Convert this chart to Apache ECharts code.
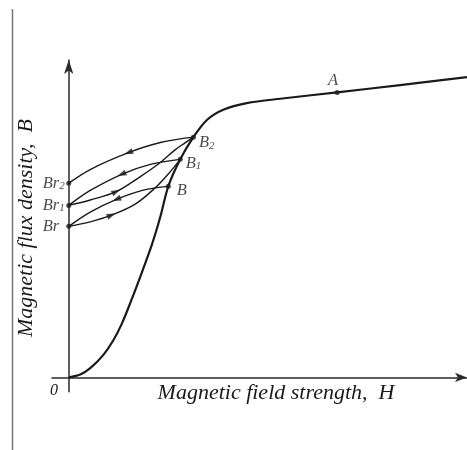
<!DOCTYPE html>
<html>
<head>
<meta charset="utf-8">
<script src="https://cdn.jsdelivr.net/npm/echarts@6/dist/echarts.min.js"></script>
<style>
  html, body { margin: 0; padding: 0; background: #fff; }
  #chart { width: 467px; height: 450px; }
</style>
</head>
<body>
<div id="chart"></div>
<script>
// H and B in arbitrary units
const mainCurve = [
  [0, 0], [2.9, 0.9], [5.4, 2.9], [8.7, 7.1], [11.2, 11.7], [13.4, 17.1],
  [15.9, 24.9], [18.4, 33.2], [20.9, 41.9], [23.0, 50.6], [25.0, 60.2],
  [28.0, 68.7], [31.3, 75.7], [34.7, 81.1], [38.8, 84.3], [44.7, 86.4],
  [53.1, 87.8], [67.4, 89.8], [83.2, 92.1], [100, 94.6]
]
// minor loops, stored in the direction of travel
const curveBToBr = [[25.0, 60.2], [18.7, 59.0], [12.0, 56.1], [5.4, 52.1], [0, 47.6]]
const curveBrToB1 = [[0, 47.6], [5.4, 49.0], [10.7, 51.1], [16.7, 54.6], [21.7, 59.7], [25.0, 64.1], [28.0, 68.7]]
const curveB1ToBr1 = [[28.0, 68.7], [20.5, 67.1], [13.3, 64.0], [5.4, 58.9], [0, 54.2]]
const curveBr1ToB2 = [[0, 54.2], [5.4, 55.9], [11.9, 58.5], [17.9, 63.2], [23.0, 67.7], [26.7, 71.7], [29.2, 73.9], [31.3, 75.7]]
const curveB2ToBr2 = [[31.3, 75.7], [23.0, 74.0], [15.0, 70.8], [5.4, 65.5], [0, 61.2]]
const loopCurves = [curveBToBr, curveBrToB1, curveB1ToBr1, curveBr1ToB2, curveB2ToBr2]
// which vertex of each loop curve carries the arrow
const arrowIndex = [2, 2, 2, 2, 2]

const pointNames = ['Br2', 'Br1', 'Br', 'B', 'B1', 'B2', 'A']
const pointH = [0, 0, 0, 25.0, 28.0, 31.3, 67.4]
const pointB = [61.2, 54.2, 47.6, 60.2, 68.7, 75.7, 89.8]

const FONT = '"Liberation Serif", "Times New Roman", serif'
const INK = '#1a1a1a'

// label placement for each named point
const leftLabel = { position: [-23.5, 2.5], align: 'left', verticalAlign: 'middle' }
const labelPlace = {
  Br2: leftLabel,
  Br1: leftLabel,
  Br: leftLabel,
  B: { position: 'right', distance: 6, offset: [0, 4] },
  B1: { position: 'right', distance: 3, offset: [0, 4] },
  B2: { position: 'right', distance: 3, offset: [0, 6] },
  A: { position: 'top', distance: 1, offset: [-4, 0] }
}

// 'Br2' -> main part + subscript
function labelText(name) {
  const m = name.match(/^([A-Za-z]+)(\d?)$/)
  return m[2] ? `{m|${m[1]}}{s|${m[2]}}` : `{m|${m[1]}}`
}

const chart = echarts.init(document.getElementById('chart'))

const pointData = pointNames.map((name, i) => ({
  name,
  value: [pointH[i], pointB[i]],
  label: {
    show: true,
    formatter: labelText(name),
    ...labelPlace[name],
    rich: {
      m: { fontSize: 16.5, fontStyle: 'italic', fontFamily: FONT, color: INK },
      s: { fontSize: 11, fontStyle: 'italic', fontFamily: FONT, color: INK, padding: [5, 0, 0, 0] }
    }
  }
}))

const loopSeries = loopCurves.map(c => ({
  type: 'line',
  data: c,
  smooth: 0.35,
  showSymbol: false,
  silent: true,
  lineStyle: { color: INK, width: 1.4 }
}))

const option = {
  animation: false,
  backgroundColor: '#fff',
  grid: { left: 52, right: 0, top: 60, bottom: 58.3 },
  xAxis: {
    type: 'value', min: -4.2, max: 100,
    axisLine: {
      onZero: true, symbol: ['none', 'arrow'], symbolSize: [7, 12],
      lineStyle: { color: '#2a2a2a', width: 1.5 }
    },
    axisTick: { show: false }, axisLabel: { show: false }, splitLine: { show: false }
  },
  yAxis: {
    type: 'value', min: -4.5, max: 100,
    axisLine: {
      onZero: true, symbol: ['none', 'arrow'], symbolSize: [7, 14],
      lineStyle: { color: '#2a2a2a', width: 1.5 }
    },
    axisTick: { show: false }, axisLabel: { show: false }, splitLine: { show: false }
  },
  series: [
    {
      type: 'line',
      data: mainCurve,
      smooth: 0.3,
      showSymbol: false,
      silent: true,
      lineStyle: { color: INK, width: 2.2 }
    },
    ...loopSeries,
    {
      type: 'scatter',
      data: pointData,
      symbolSize: 5,
      itemStyle: { color: INK },
      silent: true,
      z: 5
    }
  ],
  graphic: [
    {
      type: 'line',
      shape: { x1: 12.5, y1: 9, x2: 12.5, y2: 450 },
      style: { stroke: '#777', lineWidth: 1.5 }
    },
    {
      type: 'text', x: 276, y: 393,
      style: {
        text: 'Magnetic field strength,  H', fontSize: 22, fontStyle: 'italic',
        fontFamily: FONT, fill: INK, align: 'center', verticalAlign: 'middle'
      }
    },
    {
      type: 'text', x: 26, y: 228, rotation: Math.PI / 2,
      style: {
        text: 'Magnetic flux density,  B', fontSize: 22, fontStyle: 'italic',
        fontFamily: FONT, fill: INK, align: 'center', verticalAlign: 'middle'
      }
    },
    {
      type: 'text', x: 54, y: 391,
      style: {
        text: '0', fontSize: 16, fontStyle: 'italic',
        fontFamily: FONT, fill: INK, align: 'center', verticalAlign: 'middle'
      }
    }
  ]
}

chart.setOption(option)

// arrows along the minor loops, rotated to the local pixel direction
const arrowData = loopCurves.map((c, k) => {
  const i = arrowIndex[k]
  const p0 = chart.convertToPixel({ gridIndex: 0 }, c[i - 1])
  const p1 = chart.convertToPixel({ gridIndex: 0 }, c[i + 1])
  const deg = Math.atan2(-(p1[1] - p0[1]), p1[0] - p0[0]) * 180 / Math.PI
  return { value: c[i], symbolRotate: deg }
})

chart.setOption({
  series: [
    ...option.series,
    {
      type: 'scatter',
      data: arrowData,
      symbol: 'path://M0,0L10,4L0,8Z',
      symbolSize: [9, 6],
      itemStyle: { color: INK },
      silent: true,
      z: 6
    }
  ]
})
</script>
</body>
</html>
